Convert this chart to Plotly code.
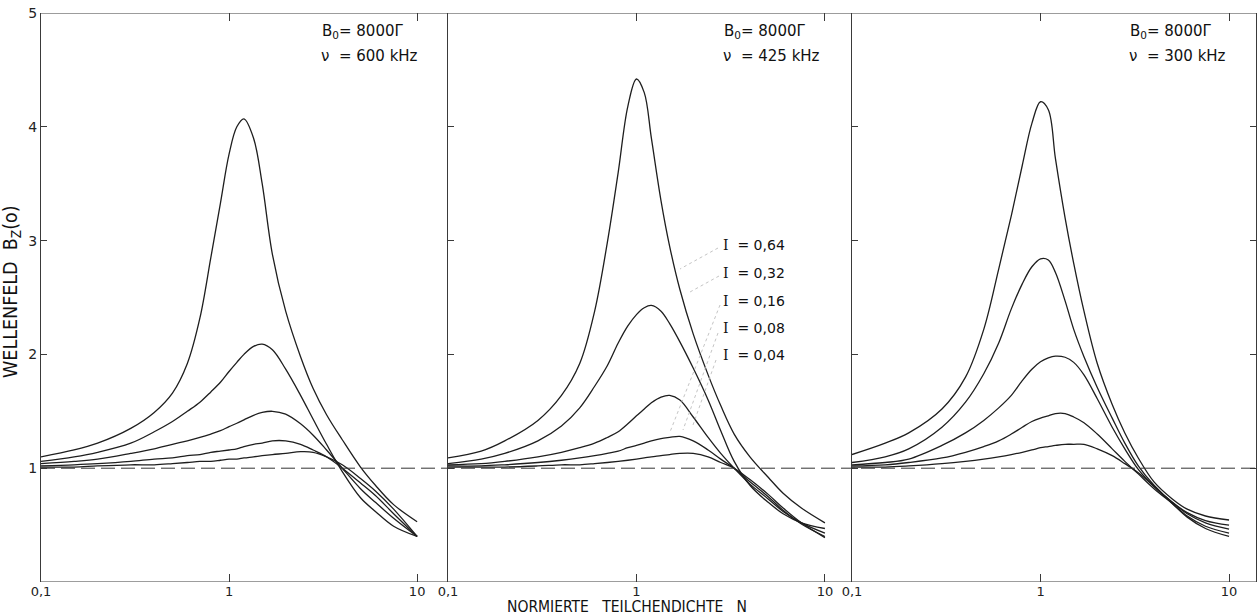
import plotly.graph_objects as go

W, H = 1258, 616

# Normierte Teilchendichte N (shared sample points)
N = [0.1, 0.15, 0.2, 0.3, 0.4, 0.5, 0.6, 0.7, 0.8, 0.9, 1.0, 1.1, 1.2, 1.35,
     1.5, 1.7, 2.0, 2.4, 2.8, 3.3, 4.0, 5.0, 6.0, 7.5, 10]

I_labels = ["0,64", "0,32", "0,16", "0,08", "0,04"]

# Panel 1: nu = 600 kHz
bz600_064 = [1.10, 1.16, 1.22, 1.35, 1.49, 1.66, 1.92, 2.32, 2.85, 3.33, 3.76, 4.00, 4.07, 3.90, 3.50, 2.88, 2.38, 1.98, 1.70, 1.47, 1.25, 1.01, 0.85, 0.68, 0.53]
bz600_032 = [1.06, 1.10, 1.14, 1.22, 1.32, 1.41, 1.50, 1.58, 1.67, 1.755, 1.85, 1.93, 2.00, 2.07, 2.09, 2.04, 1.87, 1.64, 1.43, 1.21, 0.97, 0.74, 0.62, 0.49, 0.40]
bz600_016 = [1.04, 1.06, 1.08, 1.13, 1.17, 1.21, 1.24, 1.27, 1.30, 1.33, 1.365, 1.395, 1.425, 1.465, 1.49, 1.50, 1.475, 1.39, 1.29, 1.16, 1.00, 0.82, 0.70, 0.56, 0.40]
bz600_008 = [1.02, 1.03, 1.04, 1.06, 1.08, 1.09, 1.11, 1.12, 1.14, 1.15, 1.16, 1.17, 1.19, 1.21, 1.22, 1.24, 1.24, 1.21, 1.16, 1.10, 1.00, 0.87, 0.76, 0.60, 0.40]
bz600_004 = [1.01, 1.01, 1.02, 1.03, 1.03, 1.04, 1.05, 1.06, 1.06, 1.07, 1.08, 1.08, 1.09, 1.10, 1.11, 1.12, 1.13, 1.145, 1.14, 1.10, 1.03, 0.91, 0.80, 0.64, 0.40]

# Panel 2: nu = 425 kHz
bz425_064 = [1.09, 1.15, 1.24, 1.42, 1.64, 1.92, 2.38, 2.98, 3.60, 4.18, 4.42, 4.30, 3.90, 3.35, 2.95, 2.57, 2.18, 1.82, 1.55, 1.30, 1.10, 0.92, 0.78, 0.65, 0.52]
bz425_032 = [1.04, 1.08, 1.13, 1.24, 1.37, 1.53, 1.72, 1.90, 2.10, 2.25, 2.35, 2.41, 2.43, 2.38, 2.27, 2.11, 1.88, 1.60, 1.33, 1.06, 0.85, 0.70, 0.60, 0.52, 0.47]
bz425_016 = [1.03, 1.04, 1.06, 1.10, 1.14, 1.18, 1.22, 1.27, 1.32, 1.39, 1.46, 1.52, 1.575, 1.625, 1.64, 1.60, 1.45, 1.27, 1.13, 1.00, 0.86, 0.73, 0.62, 0.52, 0.43]
bz425_008 = [1.02, 1.02, 1.03, 1.05, 1.07, 1.09, 1.11, 1.13, 1.15, 1.18, 1.20, 1.22, 1.24, 1.26, 1.27, 1.28, 1.24, 1.16, 1.08, 1.00, 0.88, 0.75, 0.63, 0.51, 0.40]
bz425_004 = [1.01, 1.01, 1.01, 1.02, 1.03, 1.03, 1.04, 1.05, 1.06, 1.07, 1.08, 1.09, 1.10, 1.11, 1.12, 1.13, 1.13, 1.10, 1.05, 1.00, 0.90, 0.77, 0.65, 0.52, 0.39]

# Panel 3: nu = 300 kHz
bz300_064 = [1.12, 1.22, 1.31, 1.52, 1.80, 2.22, 2.75, 3.22, 3.66, 4.03, 4.22, 4.15, 3.72, 3.20, 2.80, 2.38, 1.92, 1.56, 1.31, 1.09, 0.88, 0.73, 0.64, 0.58, 0.545]
bz300_032 = [1.05, 1.10, 1.17, 1.36, 1.58, 1.83, 2.10, 2.40, 2.62, 2.77, 2.84, 2.83, 2.72, 2.47, 2.22, 1.98, 1.71, 1.44, 1.22, 1.02, 0.85, 0.70, 0.61, 0.54, 0.50]
bz300_016 = [1.03, 1.05, 1.08, 1.20, 1.31, 1.42, 1.53, 1.64, 1.77, 1.87, 1.935, 1.97, 1.985, 1.975, 1.93, 1.82, 1.61, 1.36, 1.17, 0.99, 0.84, 0.70, 0.60, 0.52, 0.465]
bz300_008 = [1.02, 1.03, 1.05, 1.09, 1.14, 1.19, 1.24, 1.30, 1.36, 1.41, 1.44, 1.46, 1.48, 1.48, 1.45, 1.40, 1.30, 1.17, 1.06, 0.95, 0.82, 0.69, 0.58, 0.49, 0.43]
bz300_004 = [1.01, 1.01, 1.02, 1.04, 1.06, 1.08, 1.10, 1.12, 1.14, 1.16, 1.18, 1.19, 1.20, 1.21, 1.21, 1.21, 1.17, 1.11, 1.04, 0.96, 0.84, 0.69, 0.57, 0.47, 0.40]

freqs = ["600", "425", "300"]
x_ticks = [0.1, 1, 10]
x_ticktext = ["0,1", "1", "10"]
y_ticks = [1, 2, 3, 4, 5]
y_ticktext = ["1", "2", "3", "4", "5"]

panels = [
    [bz600_064, bz600_032, bz600_016, bz600_008, bz600_004],
    [bz425_064, bz425_032, bz425_016, bz425_008, bz425_004],
    [bz300_064, bz300_032, bz300_016, bz300_008, bz300_004],
]

INK = "#1e1e1e"
FRAME = "#3a3a3a"
FONT = "DejaVu Sans"
NARROW = "Liberation Sans Narrow, DejaVu Sans Condensed, DejaVu Sans"

fig = go.Figure()
for k, curves in enumerate(panels):
    xa = "x" if k == 0 else f"x{k+1}"
    ya = "y" if k == 0 else f"y{k+1}"
    for vals, lab in zip(curves, I_labels):
        fig.add_trace(go.Scatter(
            x=N, y=vals, mode="lines", xaxis=xa, yaxis=ya,
            line=dict(color=INK, width=1.3, shape="spline", smoothing=1.0),
            showlegend=False, hoverinfo="skip", name="I = " + lab))

def px(p):
    return p / W

def py(p):
    return (H - p) / H

ydom = [py(582), py(13)]
xdoms = [[px(41), px(419)], [px(448), px(840)], [px(852), px(1256)]]
xranges = [[-1, 1.01], [-1, 1.08], [-1, 1.143]]

xtickfont = dict(family=FONT, size=13, color="#222")
ytickfont = dict(family=FONT, size=14, color="#222")
for k in range(3):
    sfx = "" if k == 0 else str(k + 1)
    fig.update_layout(**{
        "xaxis" + sfx: dict(
            type="log", domain=xdoms[k], range=xranges[k],
            anchor="y" + sfx, tickvals=x_ticks, ticktext=x_ticktext,
            ticks="inside", ticklen=8, tickcolor=FRAME, tickwidth=1,
            mirror="ticks", showline=False, showgrid=False, zeroline=False,
            tickfont=xtickfont, automargin=False),
        "yaxis" + sfx: dict(
            domain=ydom, range=[0, 5], anchor="x" + sfx,
            tickvals=y_ticks, ticktext=y_ticktext,
            showticklabels=(k == 0),
            ticks="inside", ticklen=6, tickcolor=FRAME, tickwidth=1,
            showline=True, linecolor=FRAME, linewidth=1,
            mirror=("ticks" if k == 2 else False),
            showgrid=False, zeroline=False, tickfont=ytickfont,
            automargin=False),
    })

shapes = [
    dict(type="line", xref="paper", yref="y", x0=px(41), x1=px(1256), y0=5, y1=5,
         line=dict(color=FRAME, width=1)),
    dict(type="line", xref="paper", yref="y", x0=px(41), x1=px(1256), y0=0, y1=0,
         line=dict(color=FRAME, width=1)),
    dict(type="line", xref="paper", yref="y", x0=px(41), x1=px(1256), y0=1, y1=1,
         line=dict(color="#333", width=1, dash="14px,6px")),
]
leaders = [((718, 248), (680, 269)), ((719, 276), (690, 292)),
           ((720, 305), (670, 432)), ((718, 333), (683, 430)),
           ((716, 360), (693, 425))]
for (a, b) in leaders:
    shapes.append(dict(type="line", xref="paper", yref="paper",
                       x0=px(a[0]), y0=py(a[1]), x1=px(b[0]), y1=py(b[1]),
                       line=dict(color="#b5b5b5", width=0.8, dash="dot")))

annos = []
info_x = [320, 722, 1128]
for k in range(3):
    annos.append(dict(xref="paper", yref="paper", x=px(info_x[k]), y=py(31),
                      xanchor="left", yanchor="middle", showarrow=False,
                      text="B<sub>0</sub>= 8000\u0393",
                      font=dict(family=FONT, size=15, color="#111")))
    annos.append(dict(xref="paper", yref="paper", x=px(info_x[k] - 1), y=py(56),
                      xanchor="left", yanchor="middle", showarrow=False,
                      text="\u03bd\u00a0\u00a0= " + freqs[k] + " kHz",
                      font=dict(family=FONT, size=15, color="#111")))

label_y = [245, 273, 301, 328, 355]
for lab, yy in zip(I_labels, label_y):
    annos.append(dict(xref="paper", yref="paper", x=px(721), y=py(yy),
                      xanchor="left", yanchor="middle", showarrow=False,
                      text="<span style='font-family:DejaVu Serif'>I</span>\u00a0\u00a0= " + lab,
                      font=dict(family=FONT, size=14, color="#111")))

annos.append(dict(xref="paper", yref="paper", x=px(627), y=py(607),
                  xanchor="center", yanchor="middle", showarrow=False,
                  text="NORMIERTE\u00a0\u00a0\u00a0TEILCHENDICHTE\u00a0\u00a0\u00a0N",
                  font=dict(family=NARROW, size=15.5, color="#111")))
annos.append(dict(xref="paper", yref="paper", x=px(11), y=py(292),
                  xanchor="center", yanchor="middle", showarrow=False,
                  textangle=-90,
                  text="WELLENFELD\u00a0\u00a0B<sub>Z</sub>(o)",
                  font=dict(family=NARROW, size=19.5, color="#111")))

fig.update_layout(
    width=W, height=H, autosize=False,
    margin=dict(l=0, r=0, t=0, b=0, pad=0),
    paper_bgcolor="white", plot_bgcolor="white",
    shapes=shapes, annotations=annos, showlegend=False,
)

fig.write_html("out.html", config={"displayModeBar": False},
               post_script="document.body.style.margin='0px';document.body.style.padding='0px';")
